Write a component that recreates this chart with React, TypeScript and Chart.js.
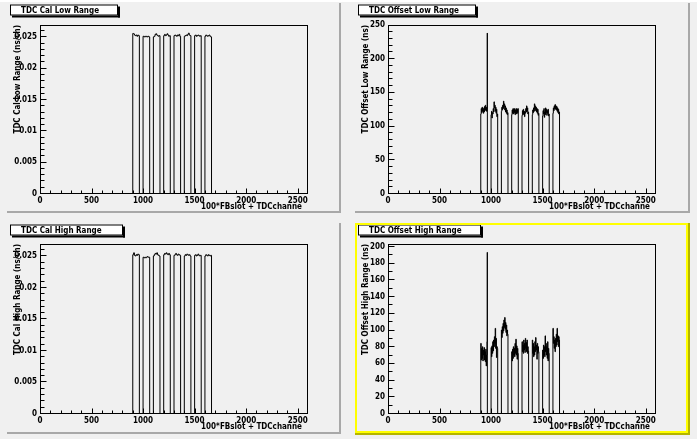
import React, { useEffect, useRef } from 'react';
import { Chart, registerables } from 'chart.js';

Chart.register(...registerables);

// ---------------- data ----------------
const SLOTS = [9, 10, 11, 12, 13, 14, 15, 16];
const CHANNELS_PER_SLOT = 64;
const X_MIN = 0;
const X_MAX = 2600;
const X_TICKS = [0, 500, 1000, 1500, 2000, 2500];
const X_TICK_LABELS = ['0', '500', '1000', '1500', '2000', '2500'];
const X_MINOR_STEP = 100;
const X_TITLE = '100*FBslot + TDCchanne';

// per slot: equal-width channel groups
const calLowRange = [
  [0.02555, 0.02548, 0.0253, 0.0252, 0.0253, 0.0251, 0.0253, 0.0252],
  [0.0251, 0.025, 0.0251, 0.025, 0.0251, 0.025, 0.0251, 0.025],
  [0.025, 0.0251, 0.0254, 0.0255, 0.0253, 0.0252, 0.0251, 0.0252],
  [0.0252, 0.0254, 0.0252, 0.0253, 0.0255, 0.0253, 0.0251, 0.0252],
  [0.0252, 0.0253, 0.0252, 0.0251, 0.0253, 0.0252, 0.0254, 0.0251],
  [0.0251, 0.0252, 0.0253, 0.0252, 0.0254, 0.0256, 0.0253, 0.0252],
  [0.0252, 0.0253, 0.0251, 0.0252, 0.0253, 0.0252, 0.0251, 0.0252],
  [0.0251, 0.0253, 0.0252, 0.0251, 0.0252, 0.0253, 0.0251, 0.025],
];
const calHighRange = [
  [0.0252, 0.0255, 0.0251, 0.025, 0.0252, 0.0251, 0.0253, 0.0252],
  [0.0248, 0.0247, 0.0248, 0.0247, 0.0248, 0.0249, 0.0248, 0.0248],
  [0.025, 0.0252, 0.0254, 0.0253, 0.0255, 0.0252, 0.0251, 0.025],
  [0.0252, 0.0254, 0.0253, 0.0255, 0.0253, 0.0252, 0.0254, 0.0252],
  [0.0251, 0.0252, 0.0254, 0.0252, 0.0251, 0.0253, 0.0252, 0.0251],
  [0.025, 0.0252, 0.0251, 0.0253, 0.0252, 0.0251, 0.0252, 0.025],
  [0.0251, 0.0252, 0.025, 0.0251, 0.0253, 0.0251, 0.025, 0.0251],
  [0.025, 0.0252, 0.0251, 0.025, 0.0252, 0.0251, 0.025, 0.0251],
];
const offsetLowRange = [
  [118, 126, 120, 128, 122, 127, 119, 125, 121, 129, 124, 131, 123, 128, 122, 126],
  [117, 122, 112, 120, 118, 126, 121, 136, 127, 131, 122, 128, 119, 125, 114, 118],
  [122, 128, 124, 131, 126, 137, 129, 133, 124, 130, 121, 127, 119, 124, 117, 120],
  [117, 124, 119, 126, 118, 125, 120, 126, 117, 124, 119, 126, 118, 125, 120, 126],
  [116, 123, 118, 125, 117, 122, 114, 121, 119, 126, 121, 130, 122, 127, 118, 121],
  [117, 124, 120, 127, 122, 133, 126, 130, 123, 128, 121, 126, 119, 125, 116, 119],
  [115, 123, 118, 126, 113, 121, 117, 127, 120, 125, 116, 123, 119, 125, 115, 118],
  [119, 127, 123, 130, 126, 132, 125, 130, 124, 129, 122, 127, 120, 125, 118, 121],
];
const offsetHighRange = [
  [84, 64, 78, 66, 80, 63, 76, 70, 79, 64, 74, 62, 77, 57, 70, 86],
  [79, 68, 81, 72, 86, 75, 88, 80, 92, 84, 102, 78, 90, 67, 80, 78],
  [100, 91, 104, 96, 108, 99, 112, 103, 115, 101, 109, 97, 106, 93, 100, 95],
  [74, 63, 77, 66, 80, 70, 78, 68, 84, 72, 89, 70, 81, 65, 78, 72],
  [86, 74, 82, 72, 88, 76, 84, 73, 90, 78, 85, 74, 88, 72, 80, 75],
  [88, 72, 84, 68, 80, 70, 86, 74, 91, 76, 82, 65, 84, 72, 80, 74],
  [76, 66, 82, 70, 80, 68, 93, 74, 84, 70, 80, 66, 86, 63, 78, 72],
  [102, 84, 92, 78, 88, 74, 90, 80, 95, 82, 102, 86, 93, 80, 92, 88],
];
const offsetLowSpike = { slot: 9, channel: 63, value: 238 };
const offsetHighSpike = { slot: 9, channel: 63, value: 193 };

const CAL_Y_TICKS = [0, 0.005, 0.01, 0.015, 0.02, 0.025];
const CAL_Y_LABELS = ['0', '0.005', '0.01', '0.015', '0.02', '0.025'];
const OFFLOW_Y_TICKS = [0, 50, 100, 150, 200, 250];
const OFFLOW_Y_LABELS = ['0', '50', '100', '150', '200', '250'];
const OFFHIGH_Y_TICKS = [0, 20, 40, 60, 80, 100, 120, 140, 160, 180, 200];
const OFFHIGH_Y_LABELS = ['0', '20', '40', '60', '80', '100', '120', '140', '160', '180', '200'];

// ---------------- helpers ----------------
type Spike = { slot: number; channel: number; value: number } | null;

function buildPoints(values: number[][], spike: Spike) {
  const pts: { x: number; y: number }[] = [{ x: X_MIN, y: 0 }];
  SLOTS.forEach((slot, i) => {
    const base = slot * 100;
    const vals = values[i];
    const w = CHANNELS_PER_SLOT / vals.length;
    vals.forEach((v, j) => {
      const lo = j * w;
      const hi = lo + w;
      pts.push({ x: base + lo, y: v });
      if (spike && spike.slot === slot && spike.channel >= lo && spike.channel < hi) {
        pts.push({ x: base + spike.channel, y: spike.value });
        if (spike.channel + 1 < hi) pts.push({ x: base + spike.channel + 1, y: v });
      }
    });
    pts.push({ x: base + CHANNELS_PER_SLOT, y: 0 });
  });
  pts.push({ x: X_MAX, y: 0 });
  return pts;
}

const FONT = "bold 8px 'DejaVu Sans Condensed', 'Liberation Sans Narrow', 'DejaVu Sans', sans-serif";

type PadCfg = {
  left: number; top: number; w: number; h: number;
  padTop: number; padBottom: number;
  title: string; titleBoxW: number; yTitle: string;
  values: number[][]; spike: Spike; yMax: number;
  yTicks: number[]; yLabels: string[]; yMinor: number;
  selected: boolean;
};

const PADS: PadCfg[] = [
  { left: 7, top: 3, w: 334, h: 210, padTop: 22, padBottom: 19.5, title: 'TDC Cal Low Range', titleBoxW: 108,
    yTitle: 'TDC Cal Low Range (ns/ch)', values: calLowRange, spike: null, yMax: 0.0269,
    yTicks: CAL_Y_TICKS, yLabels: CAL_Y_LABELS, yMinor: 0.001, selected: false },
  { left: 355, top: 3, w: 335, h: 210, padTop: 22, padBottom: 19.5, title: 'TDC Offset Low Range', titleBoxW: 118,
    yTitle: 'TDC Offset Low Range (ns)', values: offsetLowRange, spike: offsetLowSpike, yMax: 250,
    yTicks: OFFLOW_Y_TICKS, yLabels: OFFLOW_Y_LABELS, yMinor: 10, selected: false },
  { left: 7, top: 223, w: 334, h: 211, padTop: 21, padBottom: 20.5, title: 'TDC Cal High Range', titleBoxW: 113,
    yTitle: 'TDC Cal High Range (ns/ch)', values: calHighRange, spike: null, yMax: 0.0269,
    yTicks: CAL_Y_TICKS, yLabels: CAL_Y_LABELS, yMinor: 0.001, selected: false },
  { left: 355, top: 223, w: 335, h: 212, padTop: 21, padBottom: 21.5, title: 'TDC Offset High Range', titleBoxW: 123,
    yTitle: 'TDC Offset High Range (ns)', values: offsetHighRange, spike: offsetHighSpike, yMax: 203,
    yTicks: OFFHIGH_Y_TICKS, yLabels: OFFHIGH_Y_LABELS, yMinor: 10, selected: true },
];

function makePlugin(cfg: PadCfg) {
  return {
    id: 'rootPad',
    beforeDraw(chart: any) {
      const ctx = chart.ctx;
      ctx.save();
      ctx.fillStyle = '#f0f0f0';
      ctx.fillRect(0, 0, chart.width, chart.height);
      ctx.restore();
    },
    afterDraw(chart: any) {
      const ctx = chart.ctx as CanvasRenderingContext2D;
      const a = chart.chartArea;
      const xs = chart.scales.x;
      const ys = chart.scales.y;
      const W = chart.width;
      const H = chart.height;
      ctx.save();
      ctx.strokeStyle = '#000';
      ctx.fillStyle = '#000';
      ctx.lineWidth = 1;
      // frame
      const L = Math.round(a.left) + 0.5;
      const R = Math.round(a.right) - 0.5;
      const T = Math.round(a.top) + 0.5;
      const B = Math.floor(a.bottom) + 0.5;
      ctx.strokeRect(L, T, R - L, B - T);

      // x ticks
      ctx.beginPath();
      for (let v = X_MIN; v <= X_MAX + 1e-9; v += X_MINOR_STEP) {
        const isMajor = X_TICKS.some((t) => Math.abs(t - v) < 1e-6);
        const px = Math.round(xs.getPixelForValue(v)) + 0.5;
        if (px > R + 0.1) continue;
        const len = isMajor ? 5 : 3;
        ctx.moveTo(px, B);
        ctx.lineTo(px, B - len);
      }
      // y ticks
      const nMinor = Math.round(cfg.yMax / cfg.yMinor);
      for (let k = 0; k <= nMinor; k++) {
        const v = k * cfg.yMinor;
        if (v > cfg.yMax) break;
        const isMajor = cfg.yTicks.some((t) => Math.abs(t - v) < cfg.yMinor * 1e-3);
        const py = Math.floor(ys.getPixelForValue(v)) + 0.5;
        const len = isMajor ? 6 : 4;
        ctx.moveTo(L, py);
        ctx.lineTo(L + len, py);
      }
      ctx.stroke();

      ctx.font = FONT;
      // x labels
      ctx.textAlign = 'center';
      ctx.textBaseline = 'middle';
      X_TICKS.forEach((t, i) => {
        ctx.fillText(X_TICK_LABELS[i], xs.getPixelForValue(t), a.bottom + 7);
      });
      // x title
      ctx.textAlign = 'right';
      ctx.fillText(X_TITLE, a.right - 6, a.bottom + 13);
      // y labels
      ctx.textAlign = 'right';
      cfg.yTicks.forEach((t, i) => {
        ctx.fillText(cfg.yLabels[i], a.left - 3, ys.getPixelForValue(t));
      });
      // y title
      ctx.save();
      ctx.translate(11, a.top);
      ctx.rotate(-Math.PI / 2);
      ctx.textAlign = 'right';
      ctx.textBaseline = 'middle';
      ctx.fillText(cfg.yTitle, 0, 0);
      ctx.restore();

      // title box
      const bx = 3, by = 1.5, bh = 11, bw = cfg.titleBoxW;
      ctx.fillStyle = '#ffffff';
      ctx.fillRect(bx, by, bw, bh);
      ctx.strokeStyle = '#000';
      ctx.strokeRect(bx + 0.5, by + 0.5, bw - 1, bh - 1);
      ctx.fillStyle = '#000';
      ctx.fillRect(bx + bw, by + 2, 2, bh);
      ctx.fillRect(bx + 2, by + bh, bw, 2);
      ctx.textAlign = 'left';
      ctx.textBaseline = 'middle';
      ctx.fillText(cfg.title, bx + 11, by + bh / 2 + 0.5);

      // pad bevel
      if (cfg.selected) {
        ctx.fillStyle = '#ffff00';
        ctx.fillRect(0, 0, W - 2, 2);
        ctx.fillRect(0, 0, 2, H - 2);
        ctx.fillRect(W - 4, 0, 2, H - 2);
        ctx.fillRect(0, H - 4, W - 2, 2);
        ctx.fillStyle = '#b4b400';
        ctx.fillRect(W - 2, 0, 2, H);
        ctx.fillRect(0, H - 2, W, 2);
      } else {
        ctx.fillStyle = '#a8a8a8';
        ctx.fillRect(W - 2, 0, 2, H);
        ctx.fillRect(0, H - 2, W, 2);
      }
      ctx.restore();
    },
  };
}

function Pad({ cfg }: { cfg: PadCfg }) {
  const ref = useRef<HTMLCanvasElement | null>(null);
  useEffect(() => {
    if (!ref.current) return;
    const chart = new Chart(ref.current, {
      type: 'line',
      data: {
        datasets: [
          {
            data: buildPoints(cfg.values, cfg.spike),
            stepped: true,
            borderColor: '#000000',
            borderWidth: 1,
            pointRadius: 0,
            fill: false,
          } as any,
        ],
      },
      options: {
        animation: false,
        responsive: false,
        devicePixelRatio: 1,
        events: [],
        layout: { padding: { left: 33, right: cfg.w - 301, top: cfg.padTop, bottom: cfg.padBottom } },
        plugins: { legend: { display: false }, tooltip: { enabled: false }, title: { display: false } },
        scales: {
          x: { type: 'linear', min: X_MIN, max: X_MAX, display: false },
          y: { type: 'linear', min: 0, max: cfg.yMax, display: false },
        },
      },
      plugins: [makePlugin(cfg) as any],
    });
    return () => chart.destroy();
  }, [cfg]);
  return (
    <canvas
      ref={ref}
      width={cfg.w}
      height={cfg.h}
      style={{ position: 'absolute', left: cfg.left, top: cfg.top, width: cfg.w, height: cfg.h }}
    />
  );
}

export default function App() {
  return (
    <div
      style={{
        position: 'fixed',
        left: 0,
        top: 0,
        width: 697,
        height: 439,
        background: '#f0f0f0',
        overflow: 'hidden',
      }}
    >
      <div style={{ position: 'absolute', left: 0, top: 0, width: 697, height: 2, background: '#ffffff' }} />
      {PADS.map((p, i) => (
        <Pad key={i} cfg={p} />
      ))}
    </div>
  );
}
